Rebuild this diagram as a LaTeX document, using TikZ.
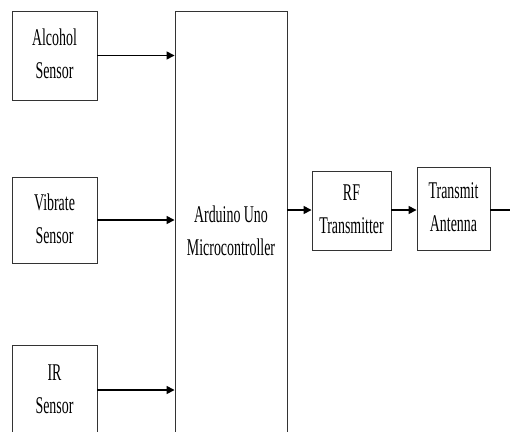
\documentclass[tikz,border=0pt]{standalone}
\usepackage{fontspec}
\setmainfont{Liberation Serif}
\usetikzlibrary{arrows.meta}
\newcommand\sqz[1]{\scalebox{0.58}[1]{\begin{tabular}{@{}c@{}}#1\end{tabular}}}
\tikzset{
  blk/.style={draw=black!80, line width=0.9pt, rectangle, inner sep=0pt,
    font=\fontsize{24}{33}\selectfont},
  arr/.style={line width=1.5pt, -{Triangle[length=8pt,width=8pt]}},
  wire/.style={line width=1.5pt}
}
\begin{document}
\begin{tikzpicture}[x=1pt,y=-1pt]
\useasboundingbox (0,0) rectangle (510,431);
\fill[white] (0,0) rectangle (510,431);
\clip (0,0) rectangle (510,431);
\node[blk, minimum width=85pt, minimum height=89pt] (alc) at (54.5,55.5) {\sqz{Alcohol\\Sensor}};
\node[blk, minimum width=85pt, minimum height=86pt] (vib) at (54.5,220) {\sqz{Vibrate\\Sensor}};
\node[blk, minimum width=85pt, minimum height=90pt] (ir) at (54.5,390) {\sqz{IR\\Sensor}};
\node[blk, minimum width=112pt, minimum height=442pt] (mcu) at (231,232) {\sqz{Arduino Uno\\Microcontroller}};
\node[blk, minimum width=79pt, minimum height=79pt] (rf) at (351.5,210.5) {\sqz{RF\\Transmitter}};
\node[blk, minimum width=73pt, minimum height=83pt] (ant) at (453.5,208.5) {\sqz{Transmit\\Antenna}};
\coordinate (out) at (512,210);
\draw[arr] (alc.east) -- (alc.east -| mcu.west);
\draw[arr] (vib.east) -- (vib.east -| mcu.west);
\draw[arr] (ir.east) -- (ir.east -| mcu.west);
\draw[arr] (mcu.east |- out) -- (rf.west |- out);
\draw[arr] (rf.east |- out) -- (ant.west |- out);
\draw[wire] (ant.east |- out) -- (out);
\end{tikzpicture}
\end{document}
